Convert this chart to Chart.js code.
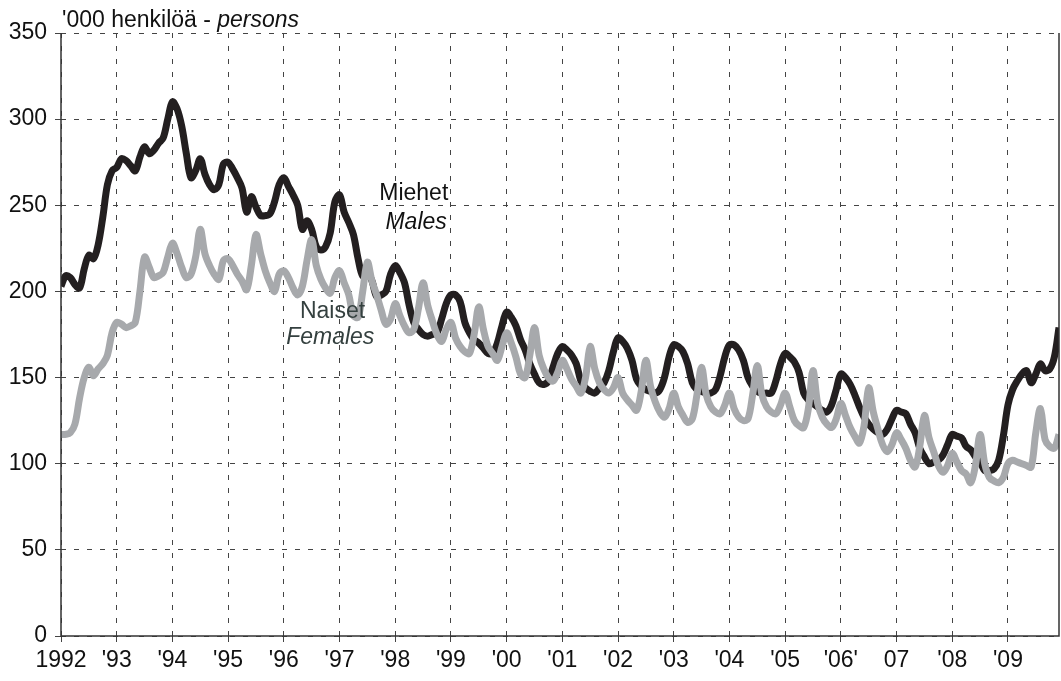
<!DOCTYPE html>
<html>
<head>
<meta charset="utf-8">
<script src="https://cdn.jsdelivr.net/npm/chart.js@4/dist/chart.umd.min.js"></script>
<style>
  html, body { margin: 0; padding: 0; background: #fff; }
  #wrap { width: 1061px; height: 681px; position: relative; }
</style>
</head>
<body>
<div id="wrap"><canvas id="unemployedChart"></canvas></div>
<script>
// monthly values, '000 persons, Jan 1992 .. Dec 2009
const males = [
  203, 209, 208, 204, 202, 213, 221, 219, 227, 243, 262, 270, // 1992
  272, 277, 276, 273, 270, 278, 284, 280, 282, 286, 289, 300, // 1993
  310, 306, 296, 280, 266, 270, 277, 268, 262, 259, 262, 274, // 1994
  275, 271, 266, 260, 246, 255, 249, 244, 244, 245, 252, 262, // 1995
  266, 261, 256, 250, 236, 241, 236, 226, 224, 226, 234, 252, // 1996
  256, 246, 240, 233, 219, 209, 211, 206, 197, 198, 200, 210, // 1997
  215, 211, 205, 192, 182, 178, 175, 174, 175, 176, 184, 193, // 1998
  198, 198, 194, 182, 176, 172, 170, 167, 164, 164, 170, 180, // 1999
  188, 185, 180, 172, 166, 158, 152, 147, 146, 148, 156, 164, // 2000
  168, 166, 163, 158, 148, 144, 142, 141, 144, 147, 154, 165, // 2001
  173, 171, 167, 160, 149, 145, 143, 142, 141, 143, 150, 162, // 2002
  169, 168, 165, 158, 147, 143, 142, 141, 141, 143, 151, 162, // 2003
  169, 169, 166, 160, 150, 145, 142, 141, 141, 141, 148, 158, // 2004
  164, 162, 159, 153, 141, 137, 135, 133, 131, 130, 134, 143, // 2005
  152, 150, 146, 140, 133, 127, 123, 120, 118, 117, 120, 126, // 2006
  131, 130, 129, 123, 118, 109, 104, 100, 101, 102, 105, 111, // 2007
  117, 116, 115, 110, 108, 104, 101, 96, 96, 97, 102, 116,    // 2008
  134, 143, 148, 152, 154, 147, 152, 158, 154, 155, 162, 179  // 2009
];
const females = [
  117, 117, 118, 123, 138, 150, 156, 151, 155, 158, 163, 176, // 1992
  182, 181, 179, 180, 182, 200, 220, 214, 208, 209, 211, 220, // 1993
  228, 222, 214, 208, 210, 220, 236, 222, 215, 210, 207, 218, // 1994
  219, 215, 210, 206, 201, 215, 233, 222, 212, 205, 200, 210, // 1995
  212, 208, 202, 198, 203, 218, 230, 215, 207, 202, 199, 208, // 1996
  212, 205, 198, 186, 185, 200, 217, 206, 198, 189, 181, 184, // 1997
  193, 186, 180, 176, 178, 190, 205, 192, 183, 175, 171, 178, // 1998
  182, 173, 168, 165, 164, 175, 191, 178, 168, 164, 160, 168, // 1999
  176, 170, 162, 152, 150, 163, 179, 163, 155, 150, 148, 153, // 2000
  160, 155, 149, 145, 141, 150, 168, 155, 147, 143, 141, 144, // 2001
  150, 141, 137, 134, 131, 142, 160, 145, 136, 130, 127, 132, // 2002
  141, 133, 128, 124, 126, 140, 156, 140, 133, 130, 129, 134, // 2003
  141, 132, 127, 125, 126, 140, 157, 140, 133, 130, 129, 134, // 2004
  141, 133, 125, 122, 121, 132, 154, 135, 127, 123, 121, 126, // 2005
  135, 128, 121, 116, 112, 122, 144, 130, 120, 111, 107, 111, // 2006
  118, 114, 109, 102, 98, 110, 128, 115, 107, 99, 95, 99,     // 2007
  106, 101, 96, 94, 89, 99, 117, 100, 92, 90, 89, 92,         // 2008
  100, 102, 101, 100, 99, 98, 118, 132, 114, 110, 109, 117    // 2009
];
const yearLabels = ["1992", "'93", "'94", "'95", "'96", "'97", "'98", "'99", "'00",
  "'01", "'02", "'03", "'04", "'05", "'06'", "07", "'08", "'09"];
const yTicks = [0, 50, 100, 150, 200, 250, 300, 350];

const FONT = "'Liberation Sans', Arial, Helvetica, sans-serif";

function toPoints(arr) {
  return arr.map((v, i) => ({ x: i, y: v }));
}

// axis frame + texts placed with the chart scales (month index, value)
const textPlugin = {
  id: 'texts',
  afterDraw(chart) {
    const ctx = chart.ctx;
    const xs = chart.scales.x;
    const ys = chart.scales.y;
    const area = chart.chartArea;
    ctx.save();
    ctx.strokeStyle = '#333';
    ctx.lineWidth = 1.5;
    ctx.beginPath();
    ctx.moveTo(area.left, area.top);
    ctx.lineTo(area.left, area.bottom);
    ctx.lineTo(area.right, area.bottom);
    ctx.lineTo(area.right, area.top);
    ctx.stroke();

    ctx.textBaseline = 'alphabetic';
    ctx.textAlign = 'left';
    ctx.fillStyle = '#111';
    ctx.font = '23px ' + FONT;
    const t1 = "'000 henkilöä - ";
    ctx.fillText(t1, area.left + 1, area.top - 6);
    const w1 = ctx.measureText(t1).width;
    ctx.font = 'italic 23px ' + FONT;
    ctx.fillText('persons', area.left + 1 + w1, area.top - 6);

    ctx.textAlign = 'center';
    ctx.textBaseline = 'middle';
    ctx.fillStyle = '#111';
    ctx.font = '23px ' + FONT;
    ctx.fillText('Miehet', xs.getPixelForValue(76), ys.getPixelForValue(257));
    ctx.font = 'italic 23px ' + FONT;
    ctx.fillText('Males', xs.getPixelForValue(76.5), ys.getPixelForValue(240));

    ctx.fillStyle = '#34403f';
    ctx.font = '23px ' + FONT;
    ctx.fillText('Naiset', xs.getPixelForValue(58.5), ys.getPixelForValue(188));
    ctx.font = 'italic 23px ' + FONT;
    ctx.fillText('Females', xs.getPixelForValue(58), ys.getPixelForValue(173));
    ctx.restore();
  }
};

document.addEventListener("DOMContentLoaded", function () {
  const ctx = document.getElementById("unemployedChart").getContext("2d");
  new Chart(ctx, {
    type: 'line',
    data: {
      datasets: [
        {
          label: 'Naiset - Females',
          data: toPoints(females),
          borderColor: '#a7a9ac',
          borderWidth: 7,
          pointRadius: 0,
          tension: 0.35,
          fill: false,
        },
        {
          label: 'Miehet - Males',
          data: toPoints(males),
          borderColor: '#231f20',
          borderWidth: 7,
          pointRadius: 0,
          tension: 0.35,
          fill: false,
        },
      ],
    },
    options: {
      responsive: true,
      maintainAspectRatio: false,
      animation: false,
      layout: { padding: { top: 33, right: 2, left: 0, bottom: 0 } },
      plugins: {
        legend: { display: false },
        tooltip: { enabled: false },
      },
      scales: {
        x: {
          type: 'linear',
          min: 0,
          max: 215,
          afterBuildTicks: function (scale) {
            scale.ticks = yearLabels.map((_, i) => ({ value: i * 12 }));
          },
          afterFit: function (scale) { scale.height = 45; },
          ticks: {
            autoSkip: false,
            maxRotation: 0,
            padding: 5,
            color: '#111',
            font: { family: FONT, size: 23 },
            callback: function (value) {
              return yearLabels[Math.round(value / 12)];
            },
          },
          grid: {
            color: '#444',
            lineWidth: 1,
            drawTicks: true,
            tickLength: 6,
            tickBorderDash: [],
          },
          border: { display: false, dash: [5, 8] },
        },
        y: {
          min: 0,
          max: 350,
          afterBuildTicks: function (scale) {
            scale.ticks = yTicks.map((v) => ({ value: v }));
          },
          afterFit: function (scale) { scale.width = 61; },
          ticks: {
            padding: 8,
            color: '#111',
            font: { family: FONT, size: 23 },
          },
          grid: {
            color: '#444',
            lineWidth: 1,
            drawTicks: true,
            tickLength: 6,
            tickBorderDash: [],
          },
          border: { display: false, dash: [5, 8] },
        },
      },
    },
    plugins: [textPlugin],
  });
});
</script>
</body>
</html>
